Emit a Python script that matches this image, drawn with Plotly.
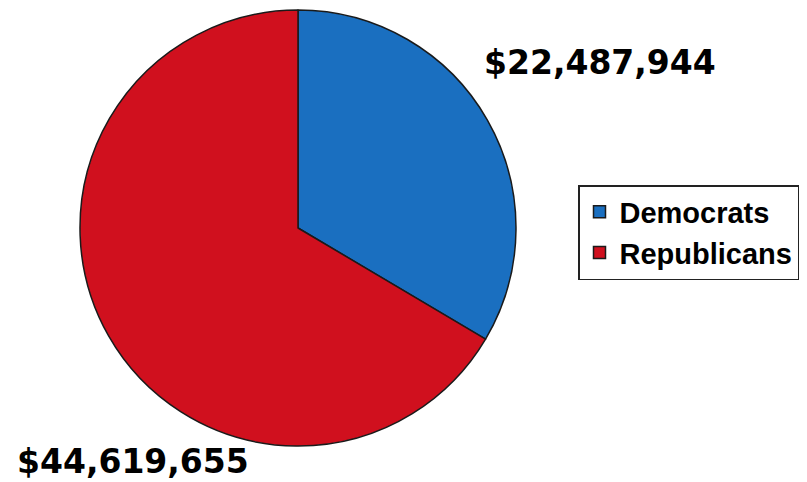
import plotly.graph_objects as go

parties = ["Democrats", "Republicans"]
amounts = [22487944, 44619655]
amount_labels = ["$22,487,944", "$44,619,655"]
colors = ["#1a6fc0", "#d0101e"]

W, H = 807, 482
fig = go.Figure()
fig.add_trace(go.Pie(
    labels=parties,
    values=amounts,
    sort=False,
    direction="clockwise",
    rotation=0,
    textinfo="none",
    hoverinfo="label+value",
    marker=dict(colors=colors, line=dict(color="#1a1a1a", width=1.5)),
    domain=dict(x=[80 / W, 516 / W], y=[(H - 446) / H, (H - 10) / H]),
))

fig.add_annotation(x=600 / W, y=(H - 63) / H, xref="paper", yref="paper",
                   text=amount_labels[0], showarrow=False,
                   font=dict(family="DejaVu Sans", size=33, color="black", weight="bold"),
                   xanchor="center", yanchor="middle")
fig.add_annotation(x=133 / W, y=(H - 461) / H, xref="paper", yref="paper",
                   text=amount_labels[1], showarrow=False,
                   font=dict(family="DejaVu Sans", size=33, color="black", weight="bold"),
                   xanchor="center", yanchor="middle")

fig.update_layout(
    width=W, height=H,
    margin=dict(l=0, r=0, t=0, b=0),
    paper_bgcolor="white",
    plot_bgcolor="white",
    showlegend=True,
    legend=dict(
        x=578 / W, y=(H - 185) / H, xanchor="left", yanchor="top",
        bgcolor="white", bordercolor="#222222", borderwidth=1.5,
        font=dict(family="Liberation Sans", size=29, color="black", weight="bold"),
    ),
)

fig.write_html("out.html")
